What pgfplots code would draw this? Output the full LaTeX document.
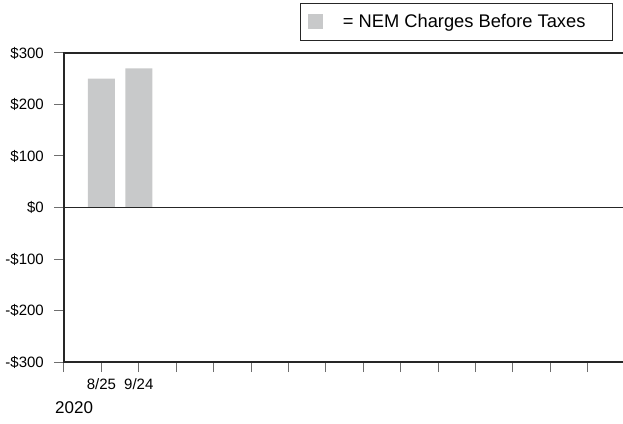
\documentclass[border=0pt]{standalone}
\usepackage{fontspec}
\setmainfont{Liberation Sans}
\usepackage{pgfplots}
\pgfplotsset{compat=1.18}
\definecolor{barcol}{HTML}{C8C9CA}
\definecolor{tickcol}{HTML}{6E6E6E}
\begin{document}
\begin{tikzpicture}
\useasboundingbox (-64pt,-61pt) rectangle (559pt,362pt);
\begin{axis}[
  scale only axis,
  width=561pt, height=309pt,
  xmin=0, xmax=15, ymin=-300, ymax=300,
  xtick={0,...,14},
  xticklabels={,8/25,9/24},
  ytick={-300,-200,...,300},
  yticklabels={-\$300,-\$200,-\$100,\$0,\$100,\$200,\$300},
  xtick pos=bottom, ytick pos=left,
  tick align=outside,
  major tick length=10pt,
  tick style={tickcol, line width=1pt},
  axis line style={black!85, line width=1.6pt},
  tick label style={font=\fontsize{15}{15}\selectfont},
  yticklabel style={inner xsep=0pt, xshift=-10pt},
  xticklabel style={inner ysep=0pt, yshift=-6pt},
  ybar, bar width=27pt,
  legend style={at={(axis description cs:0.9785,1.1618)}, anchor=north east,
    draw=black!85, line width=1pt, inner xsep=7pt, inner ysep=9pt,
    font=\fontsize{18.3}{18.3}\selectfont},
  legend image code/.code={\fill[barcol] (0pt,-7.5pt) rectangle (15pt,7.5pt);},
  legend cell align=left,
]
\addplot[draw=none, fill=barcol] coordinates {(1,250) (2,270)};
\addlegendentry{\kern18pt= NEM Charges Before Taxes\kern18pt\rule{0pt}{0pt}}
\draw[black!85, line width=1.6pt] (axis cs:0,0) -- (axis cs:15,0);
\end{axis}
\node[anchor=west, inner sep=0pt, font=\fontsize{17}{17}\selectfont] at (-9pt,-46pt) {2020};
\end{tikzpicture}
\end{document}
